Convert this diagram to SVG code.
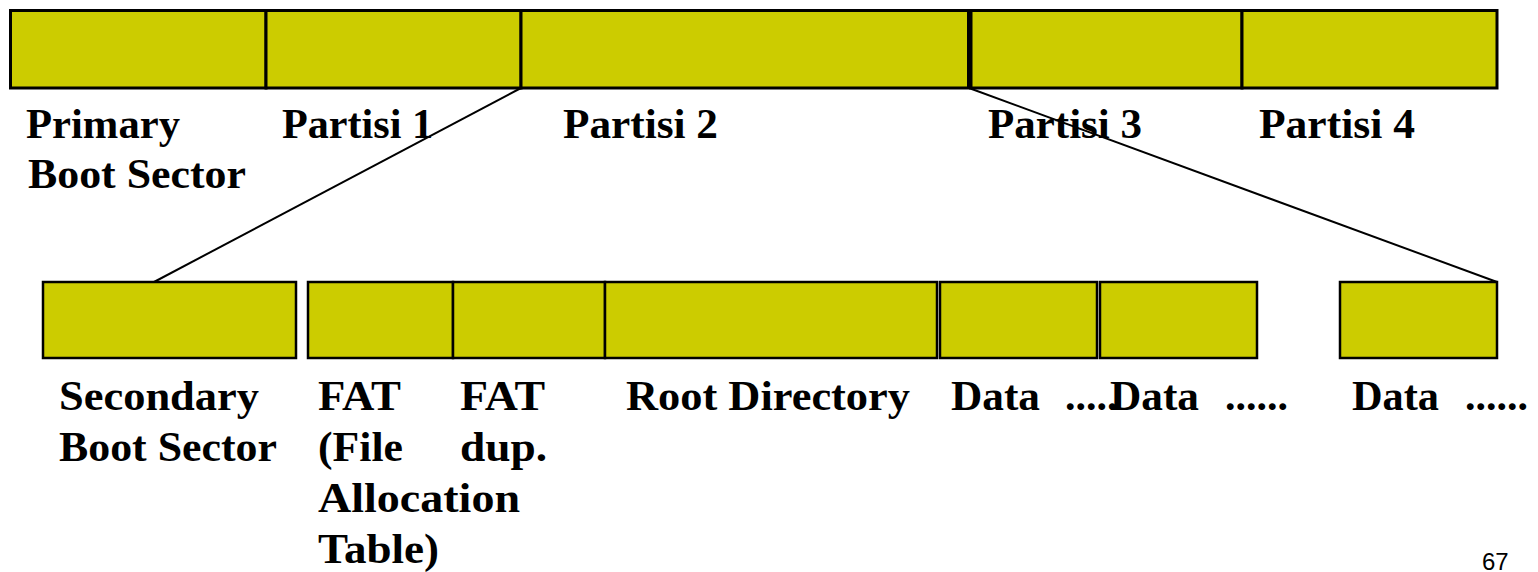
<svg xmlns="http://www.w3.org/2000/svg" width="1538" height="572" viewBox="0 0 1538 572">
<style>
.blk{fill:#CCCC00;stroke:#000;stroke-width:3}
.sub{fill:#CCCC00;stroke:#000;stroke-width:2.5}
.lbl{font-family:"Liberation Serif","Times New Roman",serif;font-weight:bold;font-size:42px;fill:#000}
.pg{font-family:"Liberation Sans",Arial,sans-serif;font-size:24px;fill:#000}
.con{stroke:#000;stroke-width:2;fill:none}
</style>
<rect width="1538" height="572" fill="#fff"/>
<g id="connectors">
<line class="con" x1="521" y1="88" x2="154" y2="282"/>
<line class="con" x1="969" y1="88" x2="1497" y2="282"/>
</g>
<g id="primary-boot-sector">
<rect class="blk" x="10.5" y="10.5" width="255.5" height="77.5"/>
<text class="lbl" x="26" y="138" textLength="154" lengthAdjust="spacingAndGlyphs">Primary</text>
<text class="lbl" x="28" y="188" textLength="218" lengthAdjust="spacingAndGlyphs">Boot Sector</text>
</g>
<g id="partisi-1">
<rect class="blk" x="266" y="10.5" width="255" height="77.5"/>
<text class="lbl" x="282" y="138" textLength="151" lengthAdjust="spacingAndGlyphs">Partisi 1</text>
</g>
<g id="partisi-2">
<rect class="blk" x="521" y="10.5" width="447.5" height="77.5"/>
<text class="lbl" x="563" y="138" textLength="155" lengthAdjust="spacingAndGlyphs">Partisi 2</text>
</g>
<g id="partisi-3">
<rect class="blk" x="971" y="10.5" width="271" height="77.5"/>
<text class="lbl" x="988" y="138" textLength="154" lengthAdjust="spacingAndGlyphs">Partisi 3</text>
</g>
<g id="partisi-4">
<rect class="blk" x="1242" y="10.5" width="255" height="77.5"/>
<text class="lbl" x="1259" y="138" textLength="156" lengthAdjust="spacingAndGlyphs">Partisi 4</text>
</g>
<g id="secondary-boot-sector">
<rect class="sub" x="43" y="282" width="253" height="76"/>
<text class="lbl" x="59" y="410" textLength="200" lengthAdjust="spacingAndGlyphs">Secondary</text>
<text class="lbl" x="59" y="461" textLength="218" lengthAdjust="spacingAndGlyphs">Boot Sector</text>
</g>
<g id="fat">
<rect class="sub" x="308" y="282" width="145" height="76"/>
<text class="lbl" x="318" y="410" textLength="83" lengthAdjust="spacingAndGlyphs">FAT</text>
<text class="lbl" x="318" y="461" textLength="85" lengthAdjust="spacingAndGlyphs">(File</text>
<text class="lbl" x="318" y="512" textLength="202" lengthAdjust="spacingAndGlyphs">Allocation</text>
<text class="lbl" x="318" y="563" textLength="121" lengthAdjust="spacingAndGlyphs">Table)</text>
</g>
<g id="fat-dup">
<rect class="sub" x="453" y="282" width="152" height="76"/>
<text class="lbl" x="460" y="410" textLength="85" lengthAdjust="spacingAndGlyphs">FAT</text>
<text class="lbl" x="460" y="461" textLength="87" lengthAdjust="spacingAndGlyphs">dup.</text>
</g>
<g id="root-directory">
<rect class="sub" x="605" y="282" width="332" height="76"/>
<text class="lbl" x="626" y="410" textLength="284" lengthAdjust="spacingAndGlyphs">Root Directory</text>
</g>
<g id="data-1">
<rect class="sub" x="940" y="282" width="157" height="76"/>
<text class="lbl" x="951" y="410"><tspan textLength="89" lengthAdjust="spacingAndGlyphs">Data</tspan> <tspan x="1065">.....</tspan></text>
</g>
<g id="data-2">
<rect class="sub" x="1100" y="282" width="157" height="76"/>
<text class="lbl" x="1110" y="410"><tspan textLength="89" lengthAdjust="spacingAndGlyphs">Data</tspan> <tspan x="1225">......</tspan></text>
</g>
<g id="data-n">
<rect class="sub" x="1340" y="282" width="157" height="76"/>
<text class="lbl" x="1352" y="410"><tspan textLength="87" lengthAdjust="spacingAndGlyphs">Data</tspan> <tspan x="1465">......</tspan></text>
</g>
<text class="pg" x="1482" y="570">67</text>
</svg>
